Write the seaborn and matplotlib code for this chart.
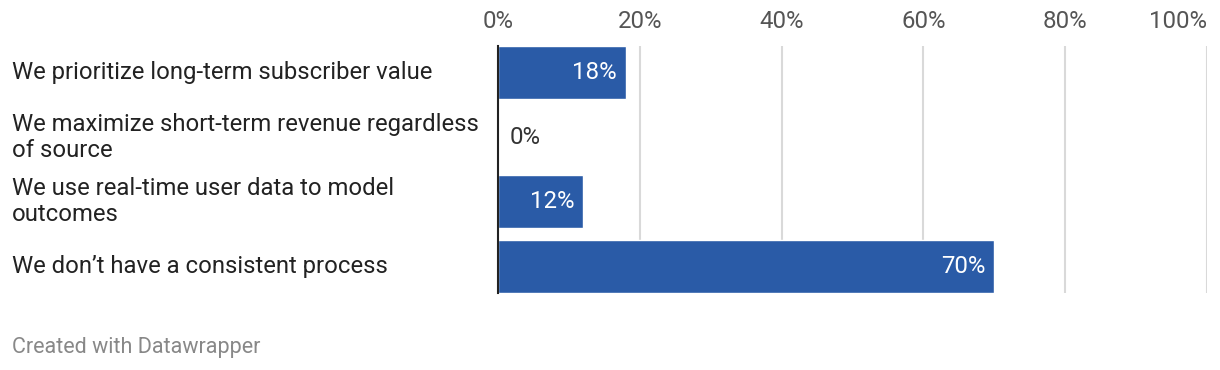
import matplotlib
matplotlib.use("Agg")
import matplotlib.pyplot as plt
import matplotlib.transforms as mtransforms
import seaborn as sns
import pandas as pd

# data
categories = [
    "We prioritize long-term subscriber value",
    "We maximize short-term revenue regardless\nof source",
    "We use real-time user data to model\noutcomes",
    "We don\u2019t have a consistent process",
]
values = [18, 0, 12, 70]
ticks = [0, 20, 40, 60, 80, 100]

df = pd.DataFrame({"cat": categories, "val": values})

sns.set_style("white")
plt.rcParams["font.family"] = ["Roboto", "DejaVu Sans"]

fig = plt.figure(figsize=(12.2, 3.7), dpi=100)
ax = fig.add_axes([0.4082, 0.2081, 0.5811, 0.6676])

sns.barplot(data=df, x="val", y="cat", orient="h", color="#2a5ba7",
            saturation=1, width=0.82, ax=ax)

ax.set_xlim(0, 100)
ax.set_ylim(3.41, -0.41)
ax.set_xticks(ticks)
ax.set_xticklabels([f"{t}%" for t in ticks])
ax.xaxis.tick_top()
ax.tick_params(axis="x", length=0, pad=9, labelsize=17.3, labelcolor="#555555")
ax.get_xticklabels()[-1].set_ha("right")
ax.set_xlabel("")
ax.set_ylabel("")
ax.set_yticks([])
for t in ticks[1:]:
    ax.axvline(t, color="#d9d9d9", lw=1.5, zorder=0)
for s in ["top", "right", "bottom"]:
    ax.spines[s].set_visible(False)
ax.spines["left"].set_color("#222222")
ax.spines["left"].set_linewidth(1.5)

# category labels, left aligned at figure edge
trans = mtransforms.blended_transform_factory(fig.transFigure, ax.transData)
for i, c in enumerate(categories):
    fig.text(12 / 1220, i, c, fontsize=17.2, color="#222222", ha="left",
             va="center", linespacing=1.15, transform=trans)

# value labels
for i, v in enumerate(values):
    if v > 5:
        ax.text(v - 1.2, i, f"{v}%", ha="right", va="center", color="white", fontsize=17.3)
    else:
        ax.text(v + 1.6, i, f"{v}%", ha="left", va="center", color="#333333", fontsize=17.3)

fig.text(12 / 1220, 1 - 347 / 370, "Created with Datawrapper", fontsize=15.5,
         color="#888888", ha="left", va="center")

fig.savefig("out.png", dpi=100, facecolor="white")
